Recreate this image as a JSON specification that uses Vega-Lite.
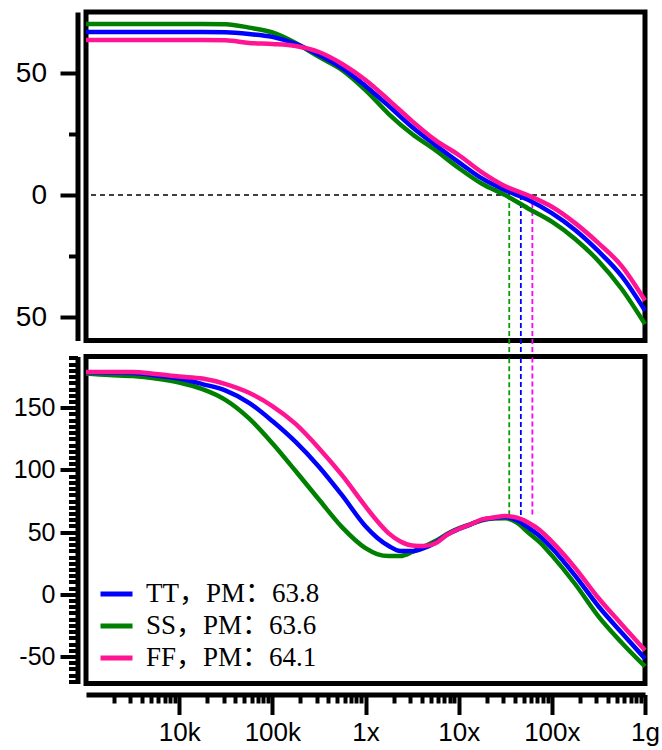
{
 "$schema": "https://vega.github.io/schema/vega-lite/v6.json",
 "padding": {"left": 10, "top": 9, "right": 5, "bottom": 5},
 "background": "white",
 "bounds": "flush",
 "spacing": 15.5,
 "config": {
  "view": {"stroke": "black", "strokeWidth": 5},
  "axis": {"grid": false, "domainColor": "black", "tickColor": "black", "labelColor": "black", "labelFont": "Liberation Sans", "domainWidth": 5, "tickWidth": 4, "title": null}
 },
 "resolve": {"scale": {"color": "independent"}},
 "datasets": {
  "pm": [
   {"k": "SS", "f": 34900000, "pm": 63.6, "c": "#00a000"},
   {"k": "TT", "f": 46500000, "pm": 63.8, "c": "#0000ff"},
   {"k": "FF", "f": 61800000, "pm": 64.1, "c": "#ff00ff"}
  ],
  "gain": [
   {"k": "SS，PM：63.6", "f": 1000, "g": 70.1},
   {"k": "SS，PM：63.6", "f": 1778, "g": 70.1},
   {"k": "SS，PM：63.6", "f": 3162, "g": 70.1},
   {"k": "SS，PM：63.6", "f": 5623, "g": 70.1},
   {"k": "SS，PM：63.6", "f": 10000, "g": 70.1},
   {"k": "SS，PM：63.6", "f": 17783, "g": 70.1},
   {"k": "SS，PM：63.6", "f": 31623, "g": 70.0},
   {"k": "SS，PM：63.6", "f": 56234, "g": 68.6},
   {"k": "SS，PM：63.6", "f": 100000, "g": 66.6},
   {"k": "SS，PM：63.6", "f": 177828, "g": 62.3},
   {"k": "SS，PM：63.6", "f": 316228, "g": 56.6},
   {"k": "SS，PM：63.6", "f": 562341, "g": 51.2},
   {"k": "SS，PM：63.6", "f": 1000000, "g": 43.0},
   {"k": "SS，PM：63.6", "f": 1778279, "g": 33.2},
   {"k": "SS，PM：63.6", "f": 3162278, "g": 25.0},
   {"k": "SS，PM：63.6", "f": 5623413, "g": 18.4},
   {"k": "SS，PM：63.6", "f": 10000000, "g": 11.1},
   {"k": "SS，PM：63.6", "f": 17782794, "g": 4.6},
   {"k": "SS，PM：63.6", "f": 31622777, "g": 0.0},
   {"k": "SS，PM：63.6", "f": 56234133, "g": -5.6},
   {"k": "SS，PM：63.6", "f": 100000000, "g": -10.9},
   {"k": "SS，PM：63.6", "f": 177827941, "g": -18.0},
   {"k": "SS，PM：63.6", "f": 316227766, "g": -27.0},
   {"k": "SS，PM：63.6", "f": 562341325, "g": -38.5},
   {"k": "SS，PM：63.6", "f": 1000000000, "g": -52.9},
   {"k": "TT，PM：63.8", "f": 1000, "g": 66.8},
   {"k": "TT，PM：63.8", "f": 1778, "g": 66.8},
   {"k": "TT，PM：63.8", "f": 3162, "g": 66.8},
   {"k": "TT，PM：63.8", "f": 5623, "g": 66.8},
   {"k": "TT，PM：63.8", "f": 10000, "g": 66.8},
   {"k": "TT，PM：63.8", "f": 17783, "g": 66.8},
   {"k": "TT，PM：63.8", "f": 31623, "g": 66.7},
   {"k": "TT，PM：63.8", "f": 56234, "g": 66.0},
   {"k": "TT，PM：63.8", "f": 100000, "g": 64.8},
   {"k": "TT，PM：63.8", "f": 177828, "g": 61.9},
   {"k": "TT，PM：63.8", "f": 316228, "g": 57.4},
   {"k": "TT，PM：63.8", "f": 562341, "g": 52.0},
   {"k": "TT，PM：63.8", "f": 1000000, "g": 44.7},
   {"k": "TT，PM：63.8", "f": 1778279, "g": 36.5},
   {"k": "TT，PM：63.8", "f": 3162278, "g": 27.9},
   {"k": "TT，PM：63.8", "f": 5623413, "g": 20.5},
   {"k": "TT，PM：63.8", "f": 10000000, "g": 13.5},
   {"k": "TT，PM：63.8", "f": 17782794, "g": 6.8},
   {"k": "TT，PM：63.8", "f": 31622777, "g": 2.0},
   {"k": "TT，PM：63.8", "f": 56234133, "g": -2.0},
   {"k": "TT，PM：63.8", "f": 100000000, "g": -7.4},
   {"k": "TT，PM：63.8", "f": 177827941, "g": -14.3},
   {"k": "TT，PM：63.8", "f": 316227766, "g": -23.0},
   {"k": "TT，PM：63.8", "f": 562341325, "g": -33.2},
   {"k": "TT，PM：63.8", "f": 1000000000, "g": -47.3},
   {"k": "FF，PM：64.1", "f": 1000, "g": 63.5},
   {"k": "FF，PM：64.1", "f": 1778, "g": 63.5},
   {"k": "FF，PM：64.1", "f": 3162, "g": 63.5},
   {"k": "FF，PM：64.1", "f": 5623, "g": 63.5},
   {"k": "FF，PM：64.1", "f": 10000, "g": 63.5},
   {"k": "FF，PM：64.1", "f": 17783, "g": 63.5},
   {"k": "FF，PM：64.1", "f": 31623, "g": 63.4},
   {"k": "FF，PM：64.1", "f": 56234, "g": 62.3},
   {"k": "FF，PM：64.1", "f": 100000, "g": 61.9},
   {"k": "FF，PM：64.1", "f": 177828, "g": 61.1},
   {"k": "FF，PM：64.1", "f": 316228, "g": 58.6},
   {"k": "FF，PM：64.1", "f": 562341, "g": 53.7},
   {"k": "FF，PM：64.1", "f": 1000000, "g": 47.1},
   {"k": "FF，PM：64.1", "f": 1778279, "g": 38.9},
   {"k": "FF，PM：64.1", "f": 3162278, "g": 30.3},
   {"k": "FF，PM：64.1", "f": 5623413, "g": 22.5},
   {"k": "FF，PM：64.1", "f": 10000000, "g": 16.4},
   {"k": "FF，PM：64.1", "f": 17782794, "g": 9.3},
   {"k": "FF，PM：64.1", "f": 31622777, "g": 3.6},
   {"k": "FF，PM：64.1", "f": 56234133, "g": -0.2},
   {"k": "FF，PM：64.1", "f": 100000000, "g": -4.8},
   {"k": "FF，PM：64.1", "f": 177827941, "g": -11.5},
   {"k": "FF，PM：64.1", "f": 316227766, "g": -19.7},
   {"k": "FF，PM：64.1", "f": 562341325, "g": -29.1},
   {"k": "FF，PM：64.1", "f": 1000000000, "g": -43.2}
  ],
  "phase": [
   {"k": "SS，PM：63.6", "f": 1000, "p": 177.5},
   {"k": "SS，PM：63.6", "f": 1778, "p": 176.3},
   {"k": "SS，PM：63.6", "f": 3162, "p": 175.5},
   {"k": "SS，PM：63.6", "f": 5623, "p": 173.5},
   {"k": "SS，PM：63.6", "f": 10000, "p": 170.3},
   {"k": "SS，PM：63.6", "f": 17783, "p": 165.0},
   {"k": "SS，PM：63.6", "f": 31623, "p": 156.2},
   {"k": "SS，PM：63.6", "f": 56234, "p": 141.5},
   {"k": "SS，PM：63.6", "f": 100000, "p": 121.5},
   {"k": "SS，PM：63.6", "f": 177828, "p": 99.1},
   {"k": "SS，PM：63.6", "f": 316228, "p": 76.2},
   {"k": "SS，PM：63.6", "f": 562341, "p": 53.8},
   {"k": "SS，PM：63.6", "f": 1000000, "p": 37.1},
   {"k": "SS，PM：63.6", "f": 1333521, "p": 32.4},
   {"k": "SS，PM：63.6", "f": 1778279, "p": 30.8},
   {"k": "SS，PM：63.6", "f": 2371374, "p": 30.8},
   {"k": "SS，PM：63.6", "f": 3162278, "p": 34.0},
   {"k": "SS，PM：63.6", "f": 4216965, "p": 38.3},
   {"k": "SS，PM：63.6", "f": 5623413, "p": 42.8},
   {"k": "SS，PM：63.6", "f": 7498942, "p": 48.5},
   {"k": "SS，PM：63.6", "f": 10000000, "p": 53.0},
   {"k": "SS，PM：63.6", "f": 13335214, "p": 56.3},
   {"k": "SS，PM：63.6", "f": 17782794, "p": 59.5},
   {"k": "SS，PM：63.6", "f": 23713737, "p": 61.0},
   {"k": "SS，PM：63.6", "f": 31622777, "p": 61.1},
   {"k": "SS，PM：63.6", "f": 42169650, "p": 57.6},
   {"k": "SS，PM：63.6", "f": 56234133, "p": 49.5},
   {"k": "SS，PM：63.6", "f": 74989421, "p": 41.6},
   {"k": "SS，PM：63.6", "f": 100000000, "p": 31.3},
   {"k": "SS，PM：63.6", "f": 177827941, "p": 8.3},
   {"k": "SS，PM：63.6", "f": 316227766, "p": -17.7},
   {"k": "SS，PM：63.6", "f": 562341325, "p": -38.9},
   {"k": "SS，PM：63.6", "f": 1000000000, "p": -58.0},
   {"k": "TT，PM：63.8", "f": 1000, "p": 178.5},
   {"k": "TT，PM：63.8", "f": 1778, "p": 178.2},
   {"k": "TT，PM：63.8", "f": 3162, "p": 177.9},
   {"k": "TT，PM：63.8", "f": 5623, "p": 176.0},
   {"k": "TT，PM：63.8", "f": 10000, "p": 173.5},
   {"k": "TT，PM：63.8", "f": 17783, "p": 169.0},
   {"k": "TT，PM：63.8", "f": 31623, "p": 163.8},
   {"k": "TT，PM：63.8", "f": 56234, "p": 154.0},
   {"k": "TT，PM：63.8", "f": 100000, "p": 139.3},
   {"k": "TT，PM：63.8", "f": 177828, "p": 122.5},
   {"k": "TT，PM：63.8", "f": 316228, "p": 102.6},
   {"k": "TT，PM：63.8", "f": 562341, "p": 79.5},
   {"k": "TT，PM：63.8", "f": 1000000, "p": 54.7},
   {"k": "TT，PM：63.8", "f": 1333521, "p": 45.5},
   {"k": "TT，PM：63.8", "f": 1778279, "p": 38.8},
   {"k": "TT，PM：63.8", "f": 2371374, "p": 34.8},
   {"k": "TT，PM：63.8", "f": 3162278, "p": 34.8},
   {"k": "TT，PM：63.8", "f": 4216965, "p": 37.2},
   {"k": "TT，PM：63.8", "f": 5623413, "p": 41.5},
   {"k": "TT，PM：63.8", "f": 7498942, "p": 48.0},
   {"k": "TT，PM：63.8", "f": 10000000, "p": 52.5},
   {"k": "TT，PM：63.8", "f": 13335214, "p": 56.1},
   {"k": "TT，PM：63.8", "f": 17782794, "p": 59.9},
   {"k": "TT，PM：63.8", "f": 23713737, "p": 61.3},
   {"k": "TT，PM：63.8", "f": 31622777, "p": 62.1},
   {"k": "TT，PM：63.8", "f": 42169650, "p": 59.5},
   {"k": "TT，PM：63.8", "f": 56234133, "p": 53.5},
   {"k": "TT，PM：63.8", "f": 74989421, "p": 46.5},
   {"k": "TT，PM：63.8", "f": 100000000, "p": 37.2},
   {"k": "TT，PM：63.8", "f": 177827941, "p": 15.0},
   {"k": "TT，PM：63.8", "f": 316227766, "p": -9.6},
   {"k": "TT，PM：63.8", "f": 562341325, "p": -30.9},
   {"k": "TT，PM：63.8", "f": 1000000000, "p": -51.7},
   {"k": "FF，PM：64.1", "f": 1000, "p": 178.7},
   {"k": "FF，PM：64.1", "f": 1778, "p": 178.7},
   {"k": "FF，PM：64.1", "f": 3162, "p": 178.7},
   {"k": "FF，PM：64.1", "f": 5623, "p": 177.1},
   {"k": "FF，PM：64.1", "f": 10000, "p": 175.1},
   {"k": "FF，PM：64.1", "f": 17783, "p": 173.5},
   {"k": "FF，PM：64.1", "f": 31623, "p": 169.0},
   {"k": "FF，PM：64.1", "f": 56234, "p": 162.0},
   {"k": "FF，PM：64.1", "f": 100000, "p": 151.4},
   {"k": "FF，PM：64.1", "f": 177828, "p": 137.0},
   {"k": "FF，PM：64.1", "f": 316228, "p": 117.5},
   {"k": "FF，PM：64.1", "f": 562341, "p": 95.6},
   {"k": "FF，PM：64.1", "f": 1000000, "p": 70.7},
   {"k": "FF，PM：64.1", "f": 1333521, "p": 59.0},
   {"k": "FF，PM：64.1", "f": 1778279, "p": 49.0},
   {"k": "FF，PM：64.1", "f": 2371374, "p": 42.5},
   {"k": "FF，PM：64.1", "f": 3162278, "p": 39.3},
   {"k": "FF，PM：64.1", "f": 4216965, "p": 38.8},
   {"k": "FF，PM：64.1", "f": 5623413, "p": 41.0},
   {"k": "FF，PM：64.1", "f": 7498942, "p": 47.8},
   {"k": "FF，PM：64.1", "f": 10000000, "p": 52.5},
   {"k": "FF，PM：64.1", "f": 13335214, "p": 56.1},
   {"k": "FF，PM：64.1", "f": 17782794, "p": 60.2},
   {"k": "FF，PM：64.1", "f": 23713737, "p": 61.7},
   {"k": "FF，PM：64.1", "f": 31622777, "p": 62.9},
   {"k": "FF，PM：64.1", "f": 42169650, "p": 61.6},
   {"k": "FF，PM：64.1", "f": 56234133, "p": 57.6},
   {"k": "FF，PM：64.1", "f": 74989421, "p": 51.4},
   {"k": "FF，PM：64.1", "f": 100000000, "p": 42.4},
   {"k": "FF，PM：64.1", "f": 177827941, "p": 21.3},
   {"k": "FF，PM：64.1", "f": 316227766, "p": -3.0},
   {"k": "FF，PM：64.1", "f": 562341325, "p": -24.2},
   {"k": "FF，PM：64.1", "f": 1000000000, "p": -45.0}
  ]
 },
 "vconcat": [
  {
   "width": 559,
   "height": 328.5,
   "layer": [
    {
     "data": {"name": "pm"},
     "mark": {"type": "rule", "strokeDash": [5, 3], "strokeWidth": 1.8, "clip": false},
     "encoding": {
      "x": {"field": "f", "type": "quantitative", "scale": {"type": "log", "domain": [1000, 1000000000], "nice": false}, "axis": null},
      "y": {"datum": 0},
      "y2": {"datum": -66},
      "color": {"field": "c", "type": "nominal", "scale": null}
     }
    },
    {
     "data": {"values": [{}]},
     "mark": {"type": "rule", "strokeDash": [5, 4], "strokeWidth": 1.5, "color": "black"},
     "encoding": {"y": {"datum": 0}}
    },
    {
     "data": {"name": "gain"},
     "mark": {"type": "line", "strokeWidth": 4.5, "interpolate": "monotone"},
     "encoding": {
      "x": {"field": "f", "type": "quantitative", "scale": {"type": "log", "domain": [1000, 1000000000], "nice": false}, "axis": null},
      "y": {
       "field": "g", "type": "quantitative",
       "scale": {"domain": [-59.6, 75], "nice": false, "zero": false},
       "axis": {
        "values": [-50, -25, 0, 25, 50],
        "tickCount": 100,
        "offset": 8.5,
        "tickSize": {"condition": {"test": "datum.value % 50 === 0", "value": 17.5}, "value": 9},
        "labelPadding": 13.5,
        "labelFontSize": 28,
        "labelExpr": "datum.value % 50 === 0 ? '' + abs(datum.value) : ''"
       }
      },
      "color": {
       "field": "k", "type": "nominal",
       "scale": {"domain": ["TT，PM：63.8", "SS，PM：63.6", "FF，PM：64.1"], "range": ["#0000ff", "#008000", "#ff1493"]},
       "legend": null
      }
     }
    }
   ]
  },
  {
   "width": 559,
   "height": 327,
   "layer": [
    {
     "data": {"name": "pm"},
     "mark": {"type": "rule", "strokeDash": [5, 3], "strokeWidth": 1.8},
     "encoding": {
      "x": {"field": "f", "type": "quantitative", "scale": {"type": "log", "domain": [1000, 1000000000], "nice": false}},
      "y": {"field": "pm", "type": "quantitative"},
      "y2": {"datum": 191.2},
      "color": {"field": "c", "type": "nominal", "scale": null}
     }
    },
    {
     "data": {"name": "phase"},
     "mark": {"type": "line", "strokeWidth": 4.5, "interpolate": "monotone"},
     "encoding": {
      "x": {
       "field": "f", "type": "quantitative",
       "scale": {"type": "log", "domain": [1000, 1000000000], "nice": false},
       "axis": {
        "values": [2000,3000,4000,5000,6000,7000,8000,9000,10000,20000,30000,40000,50000,60000,70000,80000,90000,100000,200000,300000,400000,500000,600000,700000,800000,900000,1000000,2000000,3000000,4000000,5000000,6000000,7000000,8000000,9000000,10000000,20000000,30000000,40000000,50000000,60000000,70000000,80000000,90000000,100000000,200000000,300000000,400000000,500000000,600000000,700000000,800000000,900000000,1000000000],
        "tickCount": 200,
        "offset": 11,
        "tickSize": {"condition": {"test": "indexof([10000,100000,1000000,10000000,100000000,1000000000], datum.value) >= 0", "value": 20}, "value": 8.5},
        "labelPadding": 5,
        "labelFontSize": 26,
        "labelFlush": false,
        "labelOverlap": false,
        "labelExpr": "datum.value == 10000 ? '10k' : datum.value == 100000 ? '100k' : datum.value == 1000000 ? '1x' : datum.value == 10000000 ? '10x' : datum.value == 100000000 ? '100x' : datum.value == 1000000000 ? '1g' : ''"
       }
      },
      "y": {
       "field": "p", "type": "quantitative",
       "scale": {"domain": [-71.7, 191.2], "nice": false, "zero": false},
       "axis": {
        "values": [-70,-65,-60,-55,-50,-45,-40,-35,-30,-25,-20,-15,-10,-5,0,5,10,15,20,25,30,35,40,45,50,55,60,65,70,75,80,85,90,95,100,105,110,115,120,125,130,135,140,145,150,155,160,165,170,175,180,185,190],
        "tickCount": 200,
        "offset": 8.5,
        "tickSize": {"condition": {"test": "datum.value % 50 === 0", "value": 17.5}, "value": 9},
        "labelPadding": 5,
        "labelFontSize": 25,
        "labelOverlap": false,
        "labelExpr": "datum.value % 50 === 0 ? '' + datum.value : ''"
       }
      },
      "color": {
       "field": "k", "type": "nominal",
       "scale": {"domain": ["TT，PM：63.8", "SS，PM：63.6", "FF，PM：64.1"], "range": ["#0000ff", "#008000", "#ff1493"]},
       "legend": {
        "orient": "bottom-left",
        "title": null,
        "symbolType": "stroke",
        "symbolStrokeWidth": 5,
        "symbolSize": 1024,
        "labelFont": "Liberation Serif, Noto Sans CJK SC",
        "labelFontSize": 27,
        "labelColor": "black",
        "labelLimit": 400,
        "rowPadding": -1,
        "labelOffset": 11,
        "offset": 4,
        "padding": 8
       }
      }
     }
    }
   ]
  }
 ]
}
